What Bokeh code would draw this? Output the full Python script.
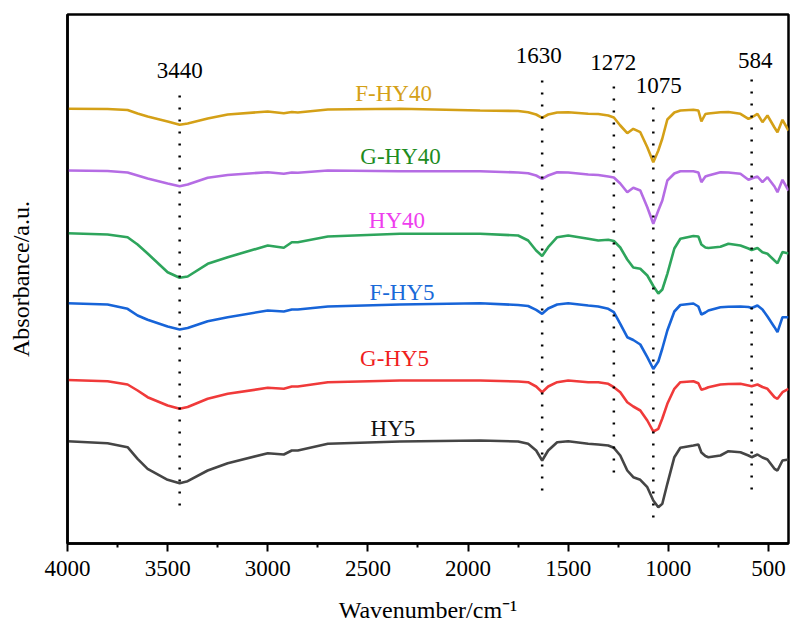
from bokeh.plotting import figure
from bokeh.models import Range1d, FixedTicker, ColumnDataSource
from bokeh.embed import file_html
from bokeh.resources import INLINE
from bokeh.core.properties import value

# ---------------- data ----------------
wavenumber = [4000, 3800, 3700, 3650, 3600, 3500, 3440, 3400, 3300, 3200, 3000, 2920, 2880, 2850,
              2700, 2340, 1940, 1750, 1700, 1660, 1630, 1600, 1555, 1500, 1400, 1350, 1300, 1272,
              1240, 1205, 1175, 1140, 1105, 1075, 1050, 1030, 1005, 970, 940, 875, 850, 835, 815,
              800, 740, 700, 640, 600, 584, 555, 530, 505, 470, 455, 430, 400]

f_hy40 = [434.7, 434.5, 433.5, 430, 427, 422, 418.7, 420, 425, 429, 432, 430.3, 431.5, 431,
          434, 434.7, 433, 432.5, 431.3, 429, 425.7, 429, 431, 431.3, 429.7, 429.5, 428, 426,
          418, 410.3, 414.7, 411.3, 396.3, 381.3, 393, 405, 424, 431, 433, 433.7, 433, 422, 429.5,
          430, 431.3, 431.5, 429.7, 424.7, 426, 429.7, 421.3, 428, 416, 411.3, 423.7, 413]

g_hy40 = [373, 372.5, 371, 368, 365, 360, 357.3, 359, 365.7, 368.5, 371.3, 369.7, 371, 370.7,
          373, 372.3, 372.3, 371, 370.3, 368, 364.7, 368, 371.3, 371, 369, 368.5, 367, 366,
          360, 351.3, 355.7, 353, 336.3, 319.7, 333, 343, 363, 370, 372.3, 372.3, 371, 361.3, 367,
          368, 371.3, 371, 369.7, 363.7, 365, 367, 361.3, 366.3, 357, 351.3, 363.7, 353]

hy40 = [310.3, 309, 306.3, 299, 290, 271.3, 265.7, 267, 279.7, 286.3, 298, 295.7, 301.3, 301.3,
        307, 309.7, 309.7, 308, 303, 293, 287.5, 296.3, 306.3, 308, 304.7, 303, 303.7, 302.5,
        296, 284, 276, 274.7, 268, 257.5, 250, 254, 269.7, 295, 304.7, 307.5, 307, 299, 296,
        295.5, 296.7, 299.7, 298, 295, 293.5, 295.5, 291.3, 289.7, 283, 280.3, 291.5, 290]

f_hy5 = [240.3, 239, 234.7, 228, 223.7, 217, 214, 215.5, 222.3, 226.3, 233, 232, 234, 234,
         237, 239, 240.3, 238.5, 237.5, 233.7, 229.7, 235, 239, 240.3, 238, 237, 234.7, 231.3,
         219.7, 206.3, 203.5, 199, 186.3, 174.5, 182, 195, 213, 232, 238.5, 240, 237, 229, 231,
         233, 236.3, 236.7, 237, 236.5, 235.5, 238, 234, 227, 216.3, 211.3, 226.3, 226.3]

g_hy5 = [163.5, 162.3, 159, 153, 146.3, 138, 134.7, 136.5, 144.7, 149.7, 155.7, 154.7, 157, 157,
         161.3, 163, 163, 162, 161.3, 157, 151.3, 157, 161.3, 163, 161.3, 161.3, 159.7, 156.3,
         151.3, 141.3, 137, 133, 123, 112, 114.7, 125, 139.7, 154.7, 161.3, 162.3, 160.3, 153.7, 155,
         156.3, 159, 159.5, 159.7, 158, 157.3, 159, 156.5, 154.7, 146.3, 144.7, 151.3, 154.7]

hy5 = [102.3, 100.3, 96.3, 84.7, 74.7, 63.7, 60.3, 62.3, 73, 80.3, 90.3, 89, 93, 93,
       99.7, 102, 103, 102, 99.7, 93, 83, 93, 101.3, 102.3, 99.7, 99, 98, 95.7,
       88, 73, 66.3, 63.7, 56.3, 43, 36.3, 39.7, 59.7, 86.3, 95.7, 98, 99, 91, 87.5,
       86.3, 88, 92.3, 91.3, 88, 86.3, 89, 86, 84, 74.7, 73, 83, 84]

series_names = ["F-HY40", "G-HY40", "HY40", "F-HY5", "G-HY5", "HY5"]
series_values = [f_hy40, g_hy40, hy40, f_hy5, g_hy5, hy5]

peaks = [3440, 1630, 1272, 1075, 584]
peak_labels = ["3440", "1630", "1272", "1075", "584"]

x_ticks = [4000, 3500, 3000, 2500, 2000, 1500, 1000, 500]
x_minor_ticks = [3750, 3250, 2750, 2250, 1750, 1250, 750]

# ---------------- styling / positions ----------------
line_colors = ["#D4A017", "#B56CE4", "#2EA55C", "#1764D8", "#F03A3A", "#454545"]
label_colors = ["#D4A017", "#1E8C1E", "#EE3EEE", "#1A6AD8", "#F01E1E", "#111111"]
label_x = [2372, 2337, 2355, 2330, 2367, 2375]
label_y = [450, 387, 323, 251, 185, 115]

peak_line_bottom = [38, 53, 71, 26, 54]
peak_line_top = [455, 469, 463, 443, 470]
peak_label_y = [473, 488, 481, 458, 483]
peak_label_dx = [0, -3.5, -0.5, 5.5, 3.5]

FONT = "Liberation Serif"
FS = "23px"

p = figure(width=790, height=624, output_backend="svg", toolbar_location=None,
           x_range=Range1d(4000, 400), y_range=Range1d(0, 529),
           min_border_left=67, min_border_right=2, min_border_top=14, min_border_bottom=81)
p.frame_width = 721
p.frame_height = 529

p.grid.visible = False
p.background_fill_color = "white"
p.border_fill_color = "white"
p.outline_line_color = "black"
p.outline_line_width = 2.5

# x axis
xa = p.xaxis[0]
xa.ticker = FixedTicker(ticks=x_ticks, minor_ticks=x_minor_ticks)
xa.axis_line_width = 2.5
xa.major_tick_line_width = 2
xa.minor_tick_line_width = 2
xa.major_tick_out = 8
xa.major_tick_in = 0
xa.minor_tick_out = 4
xa.minor_tick_in = 0
xa.major_label_text_font = FONT
xa.major_label_text_font_size = FS
xa.major_label_text_color = "black"
xa.major_label_standoff = 9
xa.axis_label = "Wavenumber/cm\u207b\u00b9"
xa.axis_label_text_font = FONT
xa.axis_label_text_font_size = "24px"
xa.axis_label_text_font_style = "normal"
xa.axis_label_text_color = "black"
xa.axis_label_standoff = 18

# y axis
ya = p.yaxis[0]
ya.ticker = FixedTicker(ticks=[])
ya.major_tick_line_color = None
ya.minor_tick_line_color = None
ya.major_label_text_font_size = "0px"
ya.axis_line_width = 2.5
ya.axis_label = "Absorbance/a.u."
ya.axis_label_text_font = FONT
ya.axis_label_text_font_size = "24px"
ya.axis_label_text_font_style = "normal"
ya.axis_label_text_color = "black"
ya.axis_label_standoff = 34

# spectra
for vals, col in zip(series_values, line_colors):
    p.line(wavenumber, vals, line_color=col, line_width=2.6)

# dotted peak markers
p.segment(x0=peaks, y0=peak_line_bottom, x1=peaks, y1=peak_line_top,
          line_color="black", line_width=2.5, line_dash="2 10")

# peak labels
src_pk = ColumnDataSource(dict(x=peaks, y=peak_label_y, t=peak_labels, dx=peak_label_dx))
p.text(x="x", y="y", text="t", x_offset="dx", source=src_pk, text_align="center",
       text_baseline="middle", text_font=value(FONT), text_font_size=FS, text_color="black")

# series labels
src_lb = ColumnDataSource(dict(x=label_x, y=label_y, t=series_names, c=label_colors))
p.text(x="x", y="y", text="t", source=src_lb, text_align="center", text_baseline="middle",
       text_font=value(FONT), text_font_size=FS, text_color="c")

html = file_html(p, INLINE)
html = html.replace("<head>", "<head><style>html,body{overflow:hidden;}</style>", 1)
open("out.html", "w").write(html)
